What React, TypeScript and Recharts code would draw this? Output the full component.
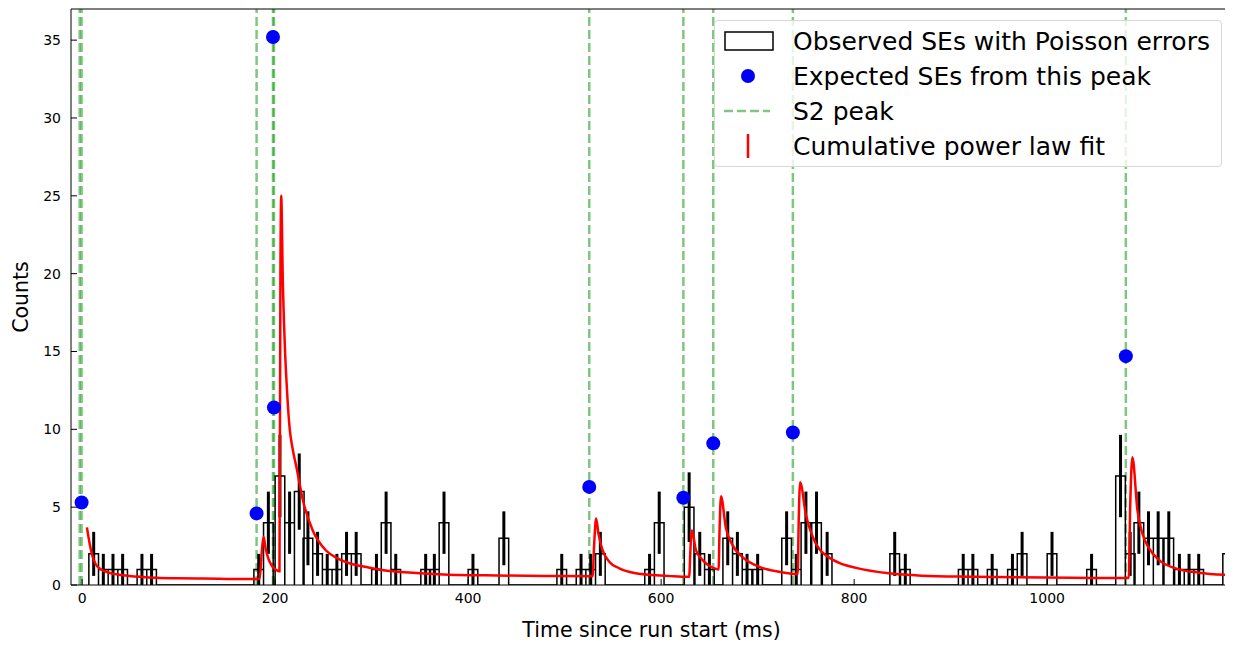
import {
  ComposedChart,
  ErrorBar,
  Legend,
  Line,
  ReferenceLine,
  Scatter,
  XAxis,
  YAxis,
} from 'recharts';

const FONT = '"DejaVu Sans", Verdana, sans-serif';
const GREEN = '#2ca02c';

// observed single electrons, binned (bin centre in ms, count per bin)
const BIN_WIDTH = 10;
const BIN_CENTERS = [
  12, 22, 32, 42, 62, 72, 183, 193, 205, 215, 225, 234, 244, 254, 264, 274, 284, 305, 315, 325,
  356, 365, 375, 405, 437, 497, 517, 527, 537, 588, 598, 629, 640, 650, 669, 679, 689, 700, 730,
  740, 750, 761, 772, 842, 853, 913, 923, 943, 964, 974, 1005, 1046, 1076, 1086, 1095, 1105, 1115,
  1126, 1137, 1147, 1157, 1187,
];
const BIN_COUNTS = [
  2, 1, 1, 1, 1, 1, 1, 4, 7, 4, 6, 3, 2, 1, 1, 2, 2, 1, 4, 1,
  1, 1, 4, 1, 3, 1, 1, 1, 2, 1, 4, 5, 2, 1, 3, 2, 1, 1, 3,
  1, 4, 4, 2, 2, 1, 1, 1, 1, 1, 2, 2, 1, 7, 2, 4, 3, 3,
  3, 1, 1, 1, 2,
];

// S2 peak times (ms)
const S2_PEAKS = [-2.5, -0.5, 180.8, 197.8, 198.8, 525.5, 623, 654, 736.5, 1081.5];

// expected SEs per peak
const EXPECTED_T = [-0.5, 180.8, 198.8, 197.8, 525.5, 623, 654, 736.5, 1081.5];
const EXPECTED_N = [5.3, 4.6, 11.4, 35.2, 6.3, 5.6, 9.1, 9.8, 14.7];

// cumulative power law fit
const FIT_T = [
  5, 8, 11, 14, 18, 23, 28, 38, 49, 62, 77, 100, 125, 150, 176, 184, 186, 188, 190, 193, 197,
  201, 204.5, 205.5, 206.3, 208, 210, 212.5, 215, 218, 222, 229, 239, 253, 265, 277, 295, 311,
  346, 380, 430, 480, 529, 530.5, 532.6, 535, 539.3, 546.2, 556.6, 574, 591, 610, 629, 630.5,
  632, 636, 643, 651.6, 659.5, 660.5, 662, 667, 674, 684, 701.6, 722, 741.5, 742.5, 744, 750,
  757, 764, 771, 785, 802, 836, 870, 922, 1026, 1084.5, 1086, 1088.3, 1093.5, 1098.7, 1105.6,
  1116, 1133, 1157, 1190,
];
const FIT_N = [
  3.7, 2.6, 1.8, 1.35, 1.07, 0.9, 0.79, 0.66, 0.58, 0.52, 0.47, 0.43, 0.41, 0.39, 0.38, 0.4, 2.0,
  3.1, 2.4, 1.7, 1.2, 0.98, 0.88, 20, 25, 19.5, 15.5, 12.3, 10.1, 8.8, 7.6, 5.4, 3.5, 2.2, 1.7,
  1.4, 1.15, 0.96, 0.77, 0.66, 0.61, 0.58, 0.56, 2.5, 4.27, 3.3, 2.24, 1.5, 1.07, 0.75, 0.64,
  0.57, 0.53, 2.5, 3.5, 2.24, 1.6, 1.17, 1.0, 3.5, 5.7, 3.7, 2.56, 1.8, 1.17, 0.85, 0.7, 4,
  6.6, 4.5, 3.1, 2.3, 1.9, 1.4, 1.1, 0.75, 0.6, 0.53, 0.46, 0.45, 5, 8.2, 4.8, 3.3, 2.35, 1.6,
  1.07, 0.79, 0.64,
];

const X_TICKS = [0, 200, 400, 600, 800, 1000];
const Y_TICKS = [0, 5, 10, 15, 20, 25, 30, 35];
const X_DOMAIN: [number, number] = [-11.5, 1191.5];
const Y_DOMAIN: [number, number] = [0, 37];

const histOutline = BIN_CENTERS.flatMap((c, i) => {
  const l = c - BIN_WIDTH / 2;
  const r = c + BIN_WIDTH / 2;
  const n = BIN_COUNTS[i];
  return [
    { x: l, y: 0 },
    { x: l, y: n },
    { x: r, y: n },
    { x: r, y: 0 },
  ];
});
const poissonPoints = BIN_CENTERS.map((c, i) => ({
  x: c,
  y: BIN_COUNTS[i],
  err: Math.sqrt(BIN_COUNTS[i]),
}));
const expectedPoints = EXPECTED_T.map((t, i) => ({ x: t, y: EXPECTED_N[i] }));
const fitPoints = FIT_T.map((t, i) => ({ x: t, y: FIT_N[i] }));

const LEGEND_ROWS = [
  { key: 'obs', label: 'Observed SEs with Poisson errors' },
  { key: 'exp', label: 'Expected SEs from this peak' },
  { key: 's2', label: 'S2 peak' },
  { key: 'fit', label: 'Cumulative power law fit' },
];

function LegendIcon({ kind }: { kind: string }) {
  return (
    <svg width={50} height={34} style={{ display: 'block' }}>
      {kind === 'obs' && <rect x={1} y={8} width={48} height={18} fill="none" stroke="#000" strokeWidth={1.5} />}
      {kind === 'exp' && <circle cx={24} cy={17} r={7} fill="#0000ff" />}
      {kind === 's2' && (
        <line x1={0} x2={46} y1={17} y2={17} stroke={GREEN} strokeOpacity={0.6} strokeWidth={2.5} strokeDasharray="9 4" />
      )}
      {kind === 'fit' && (
        <g stroke="#ff0000">
          <line x1={24} x2={24} y1={5} y2={29} strokeWidth={2.5} />
        </g>
      )}
    </svg>
  );
}

function FitLegend() {
  return (
    <div
      style={{
        position: 'relative',
        width: 508,
        height: 147,
        boxSizing: 'border-box',
        border: '1px solid #d6d6d6',
        borderRadius: 4,
        background: 'rgba(255,255,255,0.8)',
        fontFamily: FONT,
        fontSize: 25,
        color: '#000',
      }}
    >
      {LEGEND_ROWS.map((row, i) => (
        <div
          key={row.key}
          style={{
            position: 'absolute',
            left: 9,
            top: 3 + i * 35,
            height: 34,
            display: 'flex',
            alignItems: 'center',
            whiteSpace: 'nowrap',
          }}
        >
          <LegendIcon kind={row.key} />
          <span style={{ marginLeft: 19 }}>{row.label}</span>
        </div>
      ))}
    </div>
  );
}

export default function App() {
  const tickStyle = { fontSize: 14, fill: '#000', fontFamily: FONT };
  return (
    <div style={{ width: 1225, height: 637 }}>
      <ComposedChart width={1225} height={637} margin={{ top: 0, right: 0, bottom: 0, left: 0 }}>
        <XAxis
          dataKey="x"
          type="number"
          domain={X_DOMAIN}
          allowDataOverflow
          ticks={X_TICKS}
          tickSize={-6}
          tickMargin={14}
          tick={tickStyle}
          tickLine={{ stroke: '#000' }}
          axisLine={{ stroke: '#000' }}
          height={60}
          label={{
            value: 'Time since run start (ms)',
            position: 'insideBottom',
            offset: 8,
            style: { fontSize: 20.5, fill: '#000', fontFamily: FONT },
          }}
        />
        <XAxis
          xAxisId="top"
          orientation="top"
          type="number"
          domain={X_DOMAIN}
          allowDataOverflow
          tick={false}
          tickLine={false}
          height={1}
          axisLine={{ stroke: '#000' }}
        />
        <YAxis
          dataKey="y"
          type="number"
          domain={Y_DOMAIN}
          allowDataOverflow
          ticks={Y_TICKS}
          tickSize={-6}
          tickMargin={16}
          tick={tickStyle}
          tickLine={{ stroke: '#000' }}
          axisLine={{ stroke: '#000' }}
          width={63}
          label={{
            value: 'Counts',
            angle: -90,
            position: 'center',
            dx: -19,
            style: { fontSize: 20.5, fill: '#000', fontFamily: FONT, textAnchor: 'middle' },
          }}
        />
        <YAxis
          yAxisId="right"
          orientation="right"
          type="number"
          domain={Y_DOMAIN}
          allowDataOverflow
          tick={false}
          tickLine={false}
          width={1}
          axisLine={{ stroke: '#000' }}
        />
        {S2_PEAKS.map((t, i) => (
          <ReferenceLine
            key={`s2-${i}`}
            x={t}
            stroke={GREEN}
            strokeOpacity={0.6}
            strokeWidth={2.5}
            strokeDasharray="9 4"
          />
        ))}
        <Line
          data={histOutline}
          dataKey="y"
          type="linear"
          stroke="#000"
          strokeWidth={1.5}
          dot={false}
          activeDot={false}
          isAnimationActive={false}
        />
        <Scatter data={poissonPoints} dataKey="y" shape={() => <g />} isAnimationActive={false}>
          <ErrorBar dataKey="err" direction="y" width={0} stroke="#000" strokeWidth={3} isAnimationActive={false} />
        </Scatter>
        <Line
          data={fitPoints}
          dataKey="y"
          type="monotone"
          stroke="#ff0000"
          strokeWidth={2.5}
          dot={false}
          activeDot={false}
          isAnimationActive={false}
        />
        <Scatter
          data={expectedPoints}
          dataKey="y"
          isAnimationActive={false}
          shape={(p: any) => <circle cx={p.cx} cy={p.cy} r={7} fill="#0000ff" />}
        />
        <Legend
          layout="horizontal"
          verticalAlign="middle"
          align="center"
          content={() => <FitLegend />}
          wrapperStyle={{ top: 12, left: 706, width: 508, height: 147 }}
        />
      </ComposedChart>
    </div>
  );
}
